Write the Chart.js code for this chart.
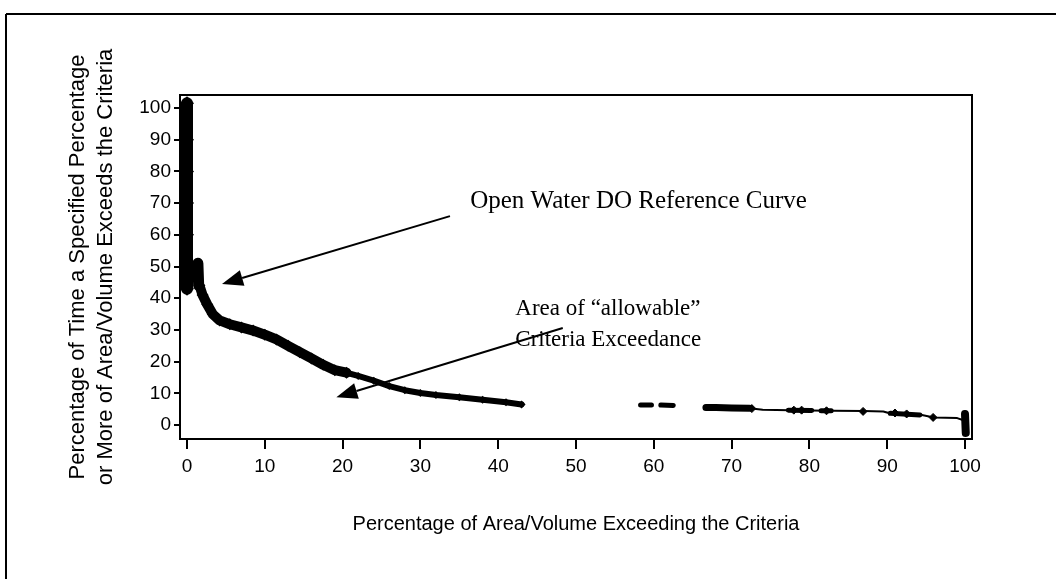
<!DOCTYPE html>
<html><head><meta charset="utf-8">
<script src="https://cdn.jsdelivr.net/npm/chart.js@4/dist/chart.umd.min.js"></script>
<style>html,body{margin:0;padding:0;background:#fff;overflow:hidden}canvas{display:block}</style>
</head><body>
<canvas id="c" width="1056" height="579"></canvas>
<script>
// ---- tick labels ----
const xTicks = [0, 10, 20, 30, 40, 50, 60, 70, 80, 90, 100];
const yTicks = [0, 10, 20, 30, 40, 50, 60, 70, 80, 90, 100];

// ---- series values ----
const verticalX = [0, 0, 0, 0, 0, 0, 0];
const verticalY = [43, 50, 60, 70, 80, 90, 101.5];
const stepX = [1.4, 1.5];
const stepY = [51, 44];
const upperCurveX = [1.6, 2.0, 2.6, 3.3, 4.2, 5.5, 7, 8.5, 10, 11.5, 13, 14.5, 16, 17.5, 19, 20.5];
const upperCurveY = [44, 41, 38, 35, 33, 31.8, 30.8, 29.8, 28.5, 27, 25, 23, 21, 19, 17.3, 16.5];
const lowerCurveX = [20.5, 22, 24, 26, 28, 30, 32, 35, 38, 41, 43];
const lowerCurveY = [16.5, 15.5, 14, 12.3, 11, 10.1, 9.5, 8.8, 8, 7.2, 6.5];
const gapBlobX = [58.3, 59.7, null, 60.9, 62.5];
const gapBlobY = [6.3, 6.3, null, 6.3, 6.2];
const midBandX = [66.7, 68, 70, 72.3];
const midBandY = [5.5, 5.5, 5.4, 5.3];
const tailX = [72.3, 74, 77.5, 80, 83, 87, 89.5, 90.2, 94, 96, 99, 99.8];
const tailY = [5.3, 4.8, 4.7, 4.6, 4.5, 4.4, 4.3, 3.8, 3.4, 2.4, 2.2, 1.5];
const tailBandX = [77.3, 80.3, null, 81.5, 82.8, null, 90.4, 94.2];
const tailBandY = [4.7, 4.6, null, 4.5, 4.5, null, 3.7, 3.2];
const tailBlobX = [72.6, 78, 79, 82.2, 86.9, 91, 92.5, 95.9];
const tailBlobY = [5.2, 4.7, 4.7, 4.5, 4.3, 3.8, 3.5, 2.4];
const endX = [100, 100.1];
const endY = [3.5, -2.5];

// ---- annotations ----
const noteTexts = ['Open Water DO Reference Curve', 'Area of \u201callowable\u201d', 'Criteria Exceedance'];
const noteX = [36.4, 42.2, 42.2];
const noteY = [68.5, 34.7, 24.9];
const arrowFromX = [33.8, 48.3];
const arrowFromY = [65.9, 30.6];
const arrowToX = [4.5, 19.2];
const arrowToY = [44.5, 8.8];

const xTitle = 'Percentage of Area/Volume Exceeding the Criteria';
const yTitle = ['Percentage of Time a Specified Percentage', 'or More of Area/Volume Exceeds the Criteria'];

const pts = (xs, ys) => xs.map((x, i) => ({x: x, y: ys[i]}));

function lineSet(xs, ys, w, r) {
  return {data: pts(xs, ys), showLine: true, borderColor: '#000', backgroundColor: '#000',
          borderWidth: w, pointRadius: r || 0, pointStyle: 'rectRot', pointBorderWidth: 0,
          spanGaps: false, borderCapStyle: 'round', borderJoinStyle: 'round'};
}

const annotate = {
  id: 'annotate',
  beforeDraw(chart) {
    const c = chart.ctx;
    c.save();
    c.strokeStyle = '#000'; c.lineWidth = 2;
    c.beginPath(); c.moveTo(6, 14); c.lineTo(1056, 14); c.moveTo(6, 14); c.lineTo(6, 579); c.stroke();
    c.restore();
  },
  afterDatasetsDraw(chart) {
    const c = chart.ctx, sx = chart.scales.x, sy = chart.scales.y;
    c.save();
    c.fillStyle = '#000'; c.strokeStyle = '#000';
    for (let i = 0; i < arrowFromX.length; i++) {
      const x1 = sx.getPixelForValue(arrowFromX[i]), y1 = sy.getPixelForValue(arrowFromY[i]);
      const x2 = sx.getPixelForValue(arrowToX[i]), y2 = sy.getPixelForValue(arrowToY[i]);
      const a = Math.atan2(y2 - y1, x2 - x1), L = 21, W = 8;
      const bx = x2 - L * Math.cos(a), by = y2 - L * Math.sin(a);
      c.lineWidth = 2;
      c.beginPath(); c.moveTo(x1, y1); c.lineTo(bx, by); c.stroke();
      c.beginPath(); c.moveTo(x2, y2);
      c.lineTo(bx + W * Math.sin(a), by - W * Math.cos(a));
      c.lineTo(bx - W * Math.sin(a), by + W * Math.cos(a));
      c.closePath(); c.fill();
    }
    const sizes = [25, 23, 23];
    c.textAlign = 'left'; c.textBaseline = 'alphabetic';
    for (let i = 0; i < noteTexts.length; i++) {
      c.font = sizes[i] + 'px "Liberation Serif", "Times New Roman", serif';
      c.fillText(noteTexts[i], sx.getPixelForValue(noteX[i]), sy.getPixelForValue(noteY[i]));
    }
    c.restore();
  }
};

const tickFont = {family: '"Liberation Sans", Arial, sans-serif', size: 19};

new Chart(document.getElementById('c'), {
  type: 'scatter',
  data: {
    datasets: [
      lineSet(verticalX, verticalY, 12, 7),
      lineSet(stepX, stepY, 11),
      lineSet(upperCurveX, upperCurveY, 10, 6),
      lineSet(lowerCurveX, lowerCurveY, 6, 4),
      lineSet(gapBlobX, gapBlobY, 5),
      lineSet(midBandX, midBandY, 7),
      lineSet(tailX, tailY, 2),
      lineSet(tailBandX, tailBandY, 5),
      {data: pts(tailBlobX, tailBlobY), showLine: false, pointStyle: 'rectRot', pointRadius: 4,
       backgroundColor: '#000', borderColor: '#000', borderWidth: 1},
      lineSet(endX, endY, 8)
    ]
  },
  options: {
    responsive: false,
    animation: false,
    devicePixelRatio: 1,
    layout: {padding: {left: 0, top: 95, right: 84, bottom: 0}},
    plugins: {legend: {display: false}, tooltip: {enabled: false}},
    scales: {
      x: {
        type: 'linear', position: 'bottom', min: -0.9, max: 100.9,
        afterBuildTicks: (ax) => { ax.ticks = xTicks.map(v => ({value: v})); },
        afterFit: (ax) => { ax.height = 140; },
        ticks: {color: '#000', font: tickFont, padding: 6, maxRotation: 0, autoSkip: false},
        grid: {drawOnChartArea: false, color: '#000', lineWidth: 2, tickLength: 10},
        border: {color: '#000', width: 2},
        title: {display: true, text: xTitle, color: '#000',
                font: {family: '"Liberation Sans", Arial, sans-serif', size: 20, lineHeight: 1.2},
                padding: {top: 0, bottom: 43}}
      },
      y: {
        type: 'linear', position: 'left', min: -4.4, max: 104.1,
        afterBuildTicks: (ax) => { ax.ticks = yTicks.map(v => ({value: v})); },
        afterFit: (ax) => { ax.width = 180; },
        ticks: {color: '#000', font: tickFont, padding: 3, autoSkip: false},
        grid: {drawOnChartArea: false, color: '#000', lineWidth: 2, tickLength: 6},
        border: {color: '#000', width: 2},
        title: {display: true, text: yTitle, color: '#000',
                font: {family: '"Liberation Sans", Arial, sans-serif', size: 22, lineHeight: 28 / 22},
                padding: {top: 64, bottom: 0}}
      },
      x2: {
        type: 'linear', position: 'top', min: -0.9, max: 100.9,
        afterFit: (ax) => { ax.height = 0; },
        ticks: {display: false},
        grid: {drawOnChartArea: false, drawTicks: false},
        border: {display: true, color: '#000', width: 2}
      },
      y2: {
        type: 'linear', position: 'right', min: -4.4, max: 104.1,
        afterFit: (ax) => { ax.width = 0; },
        ticks: {display: false},
        grid: {drawOnChartArea: false, drawTicks: false},
        border: {display: true, color: '#000', width: 2}
      }
    }
  },
  plugins: [annotate]
});
</script>
</body></html>
